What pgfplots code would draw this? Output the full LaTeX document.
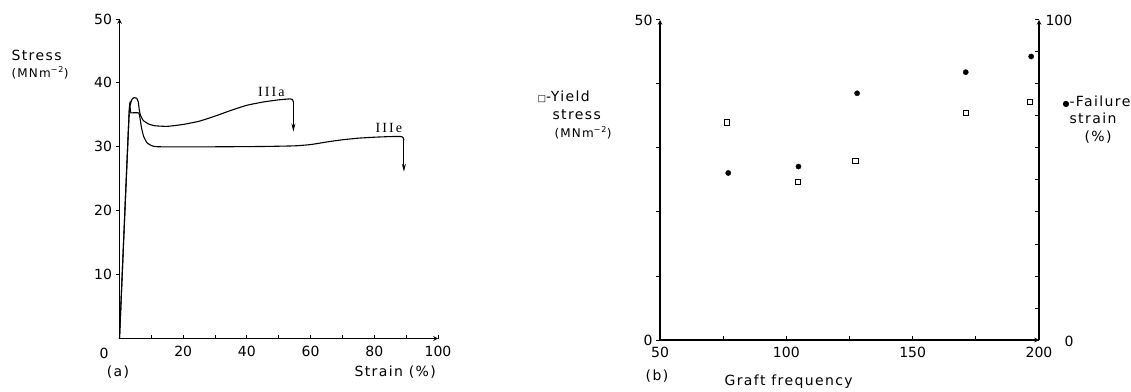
\documentclass[border=0pt]{standalone}
\usepackage{fontspec}
\setmainfont{DejaVu Sans}[LetterSpace=10]
\newfontfamily\tickfont{DejaVu Sans}
\newfontfamily\romfont{Liberation Serif}[LetterSpace=15]
\usepackage{pgfplots}
\pgfplotsset{compat=1.18}
\usetikzlibrary{arrows.meta}
\begin{document}
\begin{tikzpicture}[font=\fontsize{14}{16}\selectfont]
\useasboundingbox (0pt,0pt) rectangle (1131pt,391pt);
\pgfplotsset{
  base/.style={scale only axis, anchor=south west, clip=false,
    axis line style={-, line width=1.1pt},
    tick style={black, line width=1pt},
    major tick length=4pt, minor tick length=4pt,
    /pgf/number format/assume math mode=true,
    ticklabel style={font=\tickfont\fontsize{14}{16}\selectfont},
  },
  curve/.style={black, line width=1.1pt, smooth, tension=0.3},
  arr/.style={black, line width=1.1pt, -{Stealth[length=8pt,width=4pt]}},
}
% ---------- panel (a)
\begin{axis}[base, at={(119.5pt,52.5pt)}, width=318.5pt, height=319.5pt,
  xmin=0, xmax=100, ymin=0, ymax=50,
  axis x line=bottom, axis y line=left,
  tick align=outside,
  xtick={10,20,...,100}, xticklabels={,20,,40,,60,,80,,100},
  xtick style={yshift=4pt},
  ytick={10,20,30,40,50},
]
\addplot[curve] coordinates {(0,0) (3.0,35.0) (3.4,36.6) (3.9,37.4) (4.6,37.7) (5.4,37.6) (5.9,37.0) (6.2,35.8) (6.6,34.9) (7.5,34.1) (9,33.6) (11,33.3) (15,33.2) (20,33.5) (25,34.0) (30,34.8) (35,35.7) (40,36.5) (45,37.0) (50,37.35) (53.6,37.5) (54.3,37.4) (54.6,37.0)};
\addplot[arr] coordinates {(54.6,37.0) (54.6,32.4)};
\addplot[curve] coordinates {(0,0) (3.0,35.0) (3.6,35.3) (6.0,35.3) (6.4,34.6) (6.9,33.0) (7.6,31.6) (8.7,30.6) (10.5,30.1) (13,30.0) (30,30.0) (45,30.05) (55,30.15) (60,30.35) (65,30.75) (70,31.1) (75,31.35) (80,31.5) (85,31.6) (88.6,31.6) (89.1,31.4) (89.3,31.0)};
\addplot[arr] coordinates {(89.3,31.0) (89.3,26.1)};
\node[font=\romfont\fontsize{14}{16}\selectfont] at (axis cs:47.7,38.6) {IIIa};
\node[font=\romfont\fontsize{14}{16}\selectfont] at (axis cs:84.6,32.9) {IIIe};
\node[font=\tickfont\fontsize{14}{16}\selectfont, xshift=-15.5pt, yshift=-14.5pt] at (axis cs:0,0) {0};
\end{axis}
\node[anchor=west] at (8pt,336pt) {Stress};
\node[anchor=west, font=\fontsize{12}{14}\selectfont] at (8pt,318pt) {(MNm\textsuperscript{−2})};
\node at (118pt,19pt) {(a)};
\node[anchor=west] at (351pt,19pt) {Strain (\%)};
% ---------- panel (b)
\begin{axis}[base, at={(660pt,51pt)}, width=379pt, height=320pt,
  xmin=50, xmax=200, ymin=0, ymax=50,
  axis x line=bottom, axis y line=left,
  tick align=outside,
  xtick={50,75,...,200}, xticklabels={50,,100,,150,,200},
  xtick style={yshift=4pt},
  ytick={0,10,...,50}, yticklabels={0,,,,,50},
]
\addplot[only marks, mark=square, mark size=2.7pt, mark options={line width=1pt, black}] coordinates {(76.6,34.0) (104.5,24.7) (127.4,28.0) (171.0,35.5) (196.5,37.2)};
\end{axis}
\begin{axis}[base, at={(660pt,51pt)}, width=379pt, height=320pt,
  xmin=50, xmax=200, ymin=0, ymax=100,
  axis x line=none, axis y line=right, xtick=\empty,
  tick align=inside,
  ytick={0,10,...,100}, yticklabels={,,,,,,,,,,100},
  yticklabel style={xshift=3pt},
]
\addplot[only marks, mark=*, mark size=2.6pt, black] coordinates {(77,52.2) (104.8,54.2) (128,77.1) (171,83.7) (196.9,88.6)};
\node[anchor=west, font=\tickfont\fontsize{14}{16}\selectfont, xshift=22pt, yshift=-1pt] at (axis cs:200,0) {0};
\end{axis}
\node[anchor=west] at (534pt,294pt) {{\tickfont\fontsize{9}{10}\selectfont □}-Yield};
\node[anchor=west] at (549pt,276pt) {stress};
\node[anchor=west, font=\fontsize{12}{14}\selectfont] at (551pt,258pt) {(MNm\textsuperscript{−2})};
\node[anchor=west] at (1059pt,289pt) {{\tickfont\fontsize{8}{10}\selectfont ●}-Failure};
\node[anchor=west] at (1066pt,273pt) {strain};
\node[anchor=west] at (1081pt,254pt) {(\%)};
\node at (657pt,15pt) {(b)};
\node[anchor=west] at (721pt,9pt) {Graft frequency};
\end{tikzpicture}
\end{document}
